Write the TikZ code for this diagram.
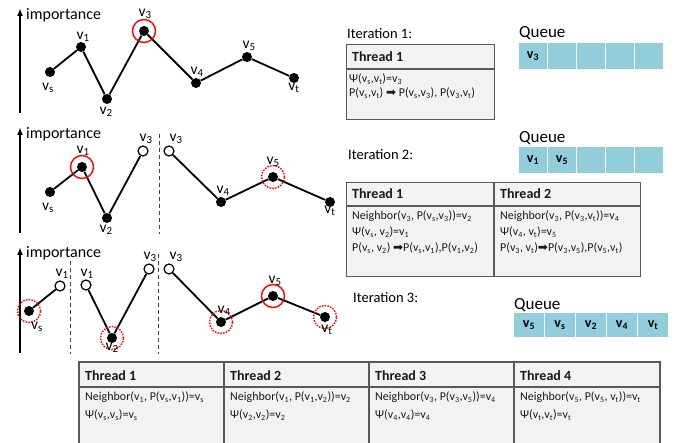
\documentclass[tikz,border=0pt]{standalone}
\usepackage{fontspec}
\setmainfont{Carlito}
\newfontfamily\dejavu{DejaVu Sans}
\usetikzlibrary{arrows.meta}
\newcommand\vsub[1]{v\textsubscript{#1}}
\newcommand\thickarr{{\dejavu\char"27A1}}
\definecolor{qblue}{HTML}{92CDDC}
\definecolor{tfill}{HTML}{F2F2F2}
\definecolor{tline}{HTML}{595959}
\begin{document}
\begin{tikzpicture}[x=1pt,y=-1pt,
  dot/.style={circle,fill=black,inner sep=0pt,minimum size=10pt},
  odot/.style={circle,draw=black,fill=white,line width=1.2pt,inner sep=0pt,minimum size=10pt},
  edg/.style={line width=1.8pt},
  sel/.style={circle,draw=red,line width=1.4pt,minimum size=23pt,inner sep=0pt},
  cand/.style={sel,dash pattern=on 1.5pt off 1.3pt},
  lbl/.style={font=\fontsize{15.5}{15.5}\selectfont,inner sep=0pt},
  imp/.style={font=\fontsize{16}{16}\selectfont,anchor=west,inner sep=0pt},
  axis/.style={line width=1.8pt,-{Latex[length=8pt,width=6pt]}},
  dline/.style={line width=1pt,black!75,dash pattern=on 4pt off 3pt},
  iter/.style={font=\fontsize{14.5}{14.5}\selectfont,anchor=west,inner sep=0pt},
  qtitle/.style={font=\fontsize{17}{17}\selectfont,anchor=west,inner sep=0pt},
  qcell/.style={rectangle,fill=qblue,draw=white,line width=1pt,anchor=north west,inner sep=0pt,font=\bfseries\fontsize{14}{14}\selectfont},
  tbox/.style={rectangle,fill=tfill,draw=tline,line width=1.2pt,anchor=north west,inner sep=0pt},
  tl/.style={draw=tline,line width=1.2pt},
  thead/.style={font=\bfseries\fontsize{14}{14}\selectfont,anchor=west,inner sep=0pt,text=black!90},
  tbody/.style={font=\fontsize{12}{16}\selectfont,anchor=north west,align=left,inner sep=0pt,text=black!90}
]
\useasboundingbox (0,0) rectangle (676,443);

% ---------------- Panel 1 ----------------
\coordinate (ax1b) at (20,113); \coordinate (ax1t) at (20,8);
\draw[axis] (ax1b) -- (ax1t);
\node[imp] (imp1) at (26,15) {importance};
\node[dot] (as) at (50,72) {};
\node[dot] (a1) at (81,47) {};
\node[dot] (a2) at (107,99) {};
\node[dot] (a3) at (144,31) {};
\node[dot] (a4) at (196,83) {};
\node[dot] (a5) at (247,57) {};
\node[dot] (at) at (294,78) {};
\draw[edg] (as) -- (a1) -- (a2) -- (a3) -- (a4) -- (a5) -- (at);
\node[sel] (ca3) at (a3) {};
\node[lbl] (las) at (48,88) {\vsub{s}};
\node[lbl] (la1) at (83,37) {\vsub{1}};
\node[lbl] (la2) at (106,112) {\vsub{2}};
\node[lbl] (la3) at (145,14) {\vsub{3}};
\node[lbl] (la4) at (197,72) {\vsub{4}};
\node[lbl] (la5) at (249,46) {\vsub{5}};
\node[lbl] (lat) at (294,88) {\vsub{t}};

% ---------------- Panel 2 ----------------
\coordinate (ax2b) at (20,233); \coordinate (ax2t) at (20,127);
\draw[axis] (ax2b) -- (ax2t);
\node[imp] (imp2) at (26,134) {importance};
\coordinate (d2t) at (159,134); \coordinate (d2b) at (159,234);
\draw[dline] (d2t) -- (d2b);
\node[dot] (bs) at (50,192) {};
\node[dot] (b1) at (82,167) {};
\node[dot] (b2) at (107,218) {};
\node[odot] (b3l) at (143,151) {};
\node[odot] (b3r) at (169,151) {};
\node[dot] (b4) at (221,202) {};
\node[dot] (b5) at (273,177) {};
\node[dot] (bt) at (330,202) {};
\draw[edg] (bs) -- (b1) -- (b2) -- (b3l);
\draw[edg] (b3r) -- (b4) -- (b5) -- (bt);
\node[sel] (cb1) at (b1) {};
\node[cand] (cb5) at (b5) {};
\node[lbl] (lbs) at (48,208) {\vsub{s}};
\node[lbl] (lb1) at (83,151) {\vsub{1}};
\node[lbl] (lb2) at (106,230) {\vsub{2}};
\node[lbl] (lb3l) at (146,139) {\vsub{3}};
\node[lbl] (lb3r) at (176,139) {\vsub{3}};
\node[lbl] (lb4) at (223,191) {\vsub{4}};
\node[lbl] (lb5) at (273,162) {\vsub{5}};
\node[lbl] (lbt) at (330,211) {\vsub{t}};

% ---------------- Panel 3 ----------------
\coordinate (ax3b) at (20,353); \coordinate (ax3t) at (20,247);
\draw[axis] (ax3b) -- (ax3t);
\node[imp] (imp3) at (26,253) {importance};
\coordinate (d3at) at (70,261); \coordinate (d3ab) at (70,354);
\coordinate (d3bt) at (158,254); \coordinate (d3bb) at (158,354);
\draw[dline] (d3at) -- (d3ab);
\draw[dline] (d3bt) -- (d3bb);
\node[dot] (cs) at (29,311) {};
\node[odot] (c1l) at (60,286) {};
\node[odot] (c1r) at (86,285) {};
\node[dot] (c2) at (112,338) {};
\node[odot] (c3l) at (149,269) {};
\node[odot] (c3r) at (169,269) {};
\node[dot] (c4) at (221,322) {};
\node[dot] (c5) at (273,296) {};
\node[dot] (ct) at (325,317) {};
\draw[edg] (cs) -- (c1l);
\draw[edg] (c1r) -- (c2) -- (c3l);
\draw[edg] (c3r) -- (c4) -- (c5) -- (ct);
\node[cand] (ccs) at (cs) {};
\node[cand] (cc2) at (c2) {};
\node[cand] (cc4) at (c4) {};
\node[cand] (cct) at (ct) {};
\node[sel] (cc5) at (c5) {};
\node[lbl] (lcs) at (37,327) {\vsub{s}};
\node[lbl] (lc1l) at (62,274) {\vsub{1}};
\node[lbl] (lc1r) at (87,274) {\vsub{1}};
\node[lbl] (lc2) at (112,348) {\vsub{2}};
\node[lbl] (lc3l) at (150,257) {\vsub{3}};
\node[lbl] (lc3r) at (176,257) {\vsub{3}};
\node[lbl] (lc4) at (224,311) {\vsub{4}};
\node[lbl] (lc5) at (275,281) {\vsub{5}};
\node[lbl] (lct) at (327,330) {\vsub{t}};

% ---------------- Iteration 1 ----------------
\node[iter] (it1) at (347,34) {Iteration 1:};
\node[qtitle] (q1t) at (519,33) {Queue};
\foreach \i/\t in {0/\vsub{3},1/,2/,3/,4/}
  \node[qcell,minimum width=29pt,minimum height=27pt] (q1c\i) at (518+29*\i,42) {\t};
\node[tbox,minimum width=148pt,minimum height=75pt] (t1box) at (346,44) {};
\coordinate (t1hl) at (346,69); \coordinate (t1hr) at (494,69);
\draw[tl] (t1hl) -- (t1hr);
\node[thead] (t1h) at (352,57) {Thread 1};
\node[tbody,font=\fontsize{12}{13.5}\selectfont] (t1b) at (349,74) {Ψ(\vsub{s},\vsub{t})=\vsub{3}\\P(\vsub{s},\vsub{t}) \thickarr\ P(\vsub{s},\vsub{3}), P(\vsub{3},\vsub{t})};

% ---------------- Iteration 2 ----------------
\node[iter] (it2) at (348,155) {Iteration 2:};
\node[qtitle] (q2t) at (519,138) {Queue};
\foreach \i/\t in {0/\vsub{1},1/\vsub{5},2/,3/,4/}
  \node[qcell,minimum width=29pt,minimum height=27pt] (q2c\i) at (518+29*\i,146) {\t};
\node[tbox,minimum width=294pt,minimum height=94pt] (t2box) at (346,182) {};
\coordinate (t2hl) at (346,206); \coordinate (t2hr) at (640,206);
\coordinate (t2vt) at (494,182); \coordinate (t2vb) at (494,276);
\draw[tl] (t2hl) -- (t2hr);
\draw[tl] (t2vt) -- (t2vb);
\node[thead] (t2h1) at (352,194) {Thread 1};
\node[thead] (t2h2) at (500,194) {Thread 2};
\node[tbody] (t2b1) at (352,211) {Neighbor(\vsub{3}, P(\vsub{s},\vsub{3}))=\vsub{2}\\Ψ(\vsub{s}, \vsub{2})=\vsub{1}\\P(\vsub{s}, \vsub{2}) \thickarr P(\vsub{s},\vsub{1}),P(\vsub{1},\vsub{2})};
\node[tbody] (t2b2) at (500,211) {Neighbor(\vsub{3}, P(\vsub{3},\vsub{t}))=\vsub{4}\\Ψ(\vsub{4}, \vsub{t})=\vsub{5}\\P(\vsub{3}, \vsub{t})\thickarr P(\vsub{3},\vsub{5}),P(\vsub{5},\vsub{t})};

% ---------------- Iteration 3 ----------------
\node[iter] (it3) at (353,298) {Iteration 3:};
\node[qtitle] (q3t) at (514,305) {Queue};
\foreach \i/\t in {0/\vsub{5},1/\vsub{s},2/\vsub{2},3/\vsub{4},4/\vsub{t}}
  \node[qcell,minimum width=31pt,minimum height=25pt] (q3c\i) at (513+31*\i,312) {\t};

% ---------------- Bottom table ----------------
\fill[tfill] (79,362) rectangle (660,444);
\coordinate (bt1) at (79,445); \coordinate (bt2) at (79,362);
\coordinate (bt3) at (660,362); \coordinate (bt4) at (660,445);
\draw[tl] (bt1) -- (bt2) -- (bt3) -- (bt4);
\coordinate (bhl) at (79,387); \coordinate (bhr) at (660,387);
\draw[tl] (bhl) -- (bhr);
\foreach \x in {224,369,514} {
  \draw[tl] (\x,362) -- (\x,445);
}
\node[thead] (bh1) at (85,376) {Thread 1};
\node[thead] (bh2) at (230,376) {Thread 2};
\node[thead] (bh3) at (375,376) {Thread 3};
\node[thead] (bh4) at (520,376) {Thread 4};
\node[tbody,font=\fontsize{12}{18}\selectfont] (bb1) at (85,392) {Neighbor(\vsub{1}, P(\vsub{s},\vsub{1}))=\vsub{s}\\Ψ(\vsub{s},\vsub{s})=\vsub{s}};
\node[tbody,font=\fontsize{12}{18}\selectfont] (bb2) at (230,392) {Neighbor(\vsub{1}, P(\vsub{1},\vsub{2}))=\vsub{2}\\Ψ(\vsub{2},\vsub{2})=\vsub{2}};
\node[tbody,font=\fontsize{12}{18}\selectfont] (bb3) at (375,392) {Neighbor(\vsub{3}, P(\vsub{3},\vsub{5}))=\vsub{4}\\Ψ(\vsub{4},\vsub{4})=\vsub{4}};
\node[tbody,font=\fontsize{12}{18}\selectfont] (bb4) at (520,392) {Neighbor(\vsub{5}, P(\vsub{5}, \vsub{t}))=\vsub{t}\\Ψ(\vsub{t},\vsub{t})=\vsub{t}};
\end{tikzpicture}
\end{document}
